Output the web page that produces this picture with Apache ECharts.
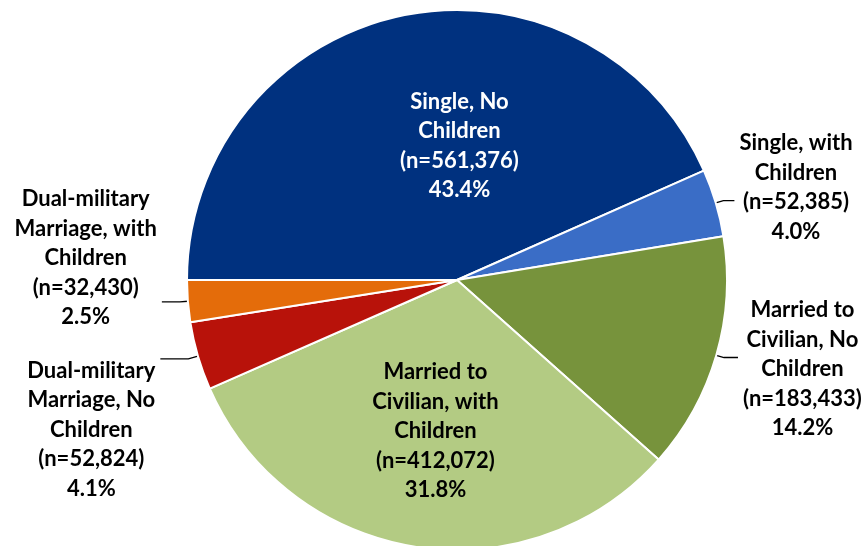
<!DOCTYPE html>
<html><head><meta charset="utf-8">
<script src="https://cdn.jsdelivr.net/npm/echarts@6/dist/echarts.min.js"></script>
<style>html,body{margin:0;padding:0;background:#fff}#c{width:864px;height:546px}</style>
</head><body><div id="c"></div>
<script>
// ---- data ----
const categories = [
  'Single, No\nChildren',
  'Single, with\nChildren',
  'Married to\nCivilian, No\nChildren',
  'Married to\nCivilian, with\nChildren',
  'Dual-military\nMarriage, No\nChildren',
  'Dual-military\nMarriage, with\nChildren'
];
const counts = [561376, 52385, 183433, 412072, 52824, 32430];

// ---- styles ----
const colors = ['#00317F', '#3A6DC6', '#77933C', '#B3CB83', '#B8120A', '#E46C0A'];
const labelInside = [true, false, false, true, false, false];
const labelTone = ['w', 'k', 'k', 'k', 'k', 'k'];
const labelPadding = [0, [0, 0, 26, 0], [23, 0, 0, 0], 0, [142, 0, 0, 0], [0, 0, 87, 0]];
const lineLen = [0, 8, 8, 0, 10, 8];
const lineLen2 = [0, 11, 14, 0, 28, 18];
const insideShift = [[31, 1], [0, 0], [0, 0], [0, 15], [0, 0], [0, 0]];

const FONT = 'Lato';
const baseRich = { fontFamily: FONT, fontWeight: 'bold', fontSize: 22, lineHeight: 29.5, align: 'center' };

const data = categories.map((name, i) => ({
  name: name,
  value: counts[i],
  itemStyle: { color: colors[i] },
  label: {
    position: labelInside[i] ? 'inside' : 'outside',
    padding: labelPadding[i]
  },
  labelLine: { show: !labelInside[i], length: lineLen[i], length2: lineLen2[i] }
}));

const chart = echarts.init(document.getElementById('c'), null, { renderer: 'canvas' });
chart.setOption({
  backgroundColor: '#ffffff',
  animation: false,
  series: [{
    type: 'pie',
    center: [457, 280],
    radius: 270,
    startAngle: 180,
    clockwise: true,
    avoidLabelOverlap: false,
    percentPrecision: 1,
    itemStyle: { borderColor: '#ffffff', borderWidth: 2 },
    emphasis: { disabled: true },
    label: {
      show: true,
      distanceToLabelLine: 5,
      formatter: function (p) {
        const tone = labelTone[p.dataIndex];
        const lines = p.name.split('\n');
        lines.push('(n=' + p.value.toLocaleString('en-US') + ')');
        lines.push(p.percent.toFixed(1) + '%');
        return lines.map(l => '{' + tone + '|' + l + '}').join('\n');
      },
      rich: {
        w: Object.assign({ color: '#ffffff' }, baseRich),
        k: Object.assign({ color: '#000000' }, baseRich)
      }
    },
    labelLine: { smooth: false, lineStyle: { color: '#000000', width: 1.3 } },
    labelLayout: function (params) {
      const i = params.dataIndex;
      if (!labelInside[i]) return {};
      const r = params.labelRect;
      return {
        x: r.x + r.width / 2 + insideShift[i][0],
        y: r.y + r.height / 2 + insideShift[i][1]
      };
    },
    data: data
  }]
});
</script>
</body></html>
